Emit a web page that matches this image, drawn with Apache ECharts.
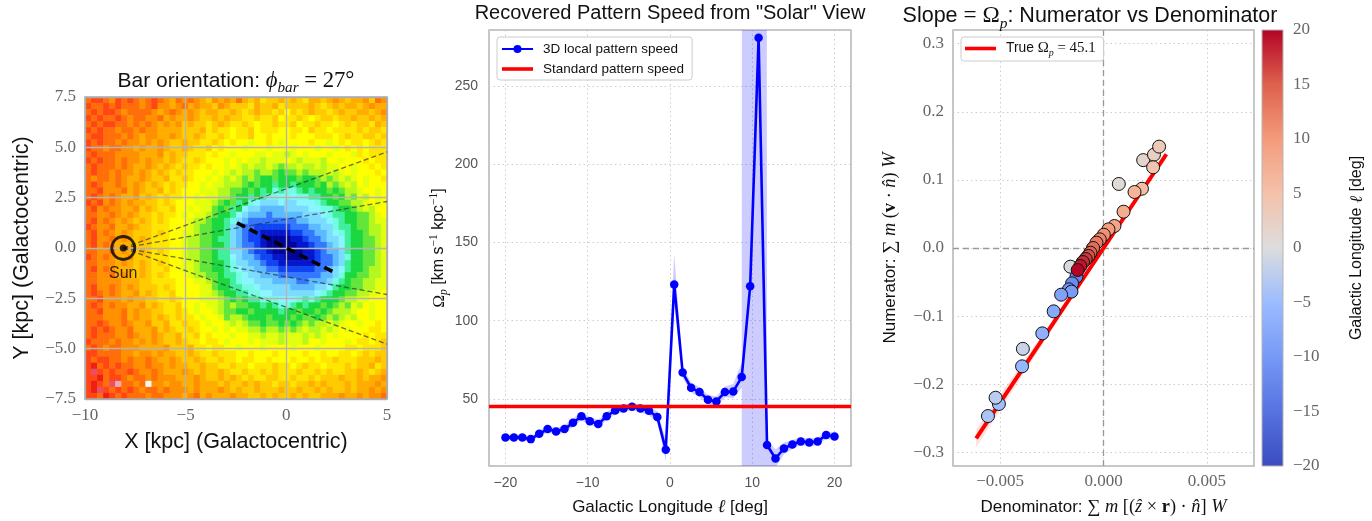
<!DOCTYPE html>
<html><head><meta charset="utf-8">
<script src="https://cdn.jsdelivr.net/npm/echarts@6/dist/echarts.min.js"></script>
<style>html,body{margin:0;padding:0;background:#fff}#c{width:1372px;height:521px}</style>
</head><body><div id="c"></div>
<script>
// ================= Panel 1: face-on density map (50 x 50 bins, level codes)
const mapXRange = [-10, 5];
const mapYRange = [-7.5, 7.5];
const mapBins = 50;
const mapLevels = "wpq0123456789abcdefghijk";
const mapColors = ['#fafafa','#eea8b4','#e8506a','#f01e14','#ff4614','#ff6e08','#ff9000','#ffae00','#ffca00','#ffe600','#ffff00','#e2ff10','#b4f820','#62e63c','#1cd840','#40ee9c','#74fce2','#8af6ff','#7cdcff','#5cbaff','#3478ff','#1044f2','#0616cc','#00049a'];
const mapRows = [
"21123121 23212 342323 45343424 5465545456445 43454435 23",
"1221212 22321 33432 4344534 5556455465555456545 445434 4",
"212112 32222 34323 434544 554565455 65756 545565455 44543",
"121221 2322 33243 44345 545455 66566576656765 5655455 454",
"21211 2232 32343 4354 556545 6656766566576656676 56556 45",
"1212 2322 32334 4445 55465 66766576667766756676666 56556",
"2112 2232 3433 4434 5545 66567665 77677767776 6676566 5565",
"121 2232 3343 4345 5455 665676 77877678777767787 676676 56",
"12 2322 3343 4434 5545 66576 77787778777877787787 676766 6",
"21 2223 3334 443 5455 66676 7787778 87889878 77787778 67666",
"1 2122 3233 4344 545 66567 778787 8898887898889 778777 6766",
"21222 323 4434 545 6566 767787 898 9989a99899 8988 77877 676",
"2122 3233 434 545 65667 7787 898 99a99 abaa 9a999 898 78777 67",
"2322 323 4434 554 6656 7787 898 9a9 abbabbbabba 9a9 898 7877 6",
"212 3323 434 545 6566 7787 889 99 abab bcbbcbb bab 9a9 89 78777",
"221 3332 434 554 656 7778 889 9a aba bcb dcdd cbcb bab a9 98 7787",
"212 323 443 545 6566 7787 88 99 ab bcb cdd ede ddc cb bab 9a 89 787",
"121 323 434 455 656 7778 88 9a ba cb d e fffeff eee d cb ba a9 98 787",
"21 3233 443 545 665 7787 88 a ba cb e ff gggg ffff ee dd c bb a9 89 77",
"22 3323 434 55 6566 787 88 9a bb c e f ggg h ggggg fff e d cc bb aa 9 87",
"21 323 434 545 656 777 8 9 9 a b b c d f g hhhhhhhh gg fff e d c bb a a 9 8 8",
"12 332 443 455 666 77 7 8 9 a a b b c f g hh iiiiii hhh gg ff d cc b aa 99 8",
"21 323 434 555 656 77 889aabbcfgh ii jjjjj ii hh gg f e d c bb a 99 8",
"21 332 434 545 666 77 899aabcc fghii j kkkk jj i hh g ff e c bb aa 9 8",
"21 323 444 555 666 77 899aabbc fghhij kkkkk jj i hh g f e c bb aa 9 8",
"22 332 434 545 656 77 899aabcc ffghii j kkkkk jj i h gg f c bb aa 9 8",
"12 323 443 555 666 77 899aabcc efgghii jj kkk jj i hh g f d bb aa 9 8",
"22 333 434 545 656 77 889aabbc dffggh ii jjjjjj i hh g f c bb aa 9 8",
"21 323 444 545 665 77 889aabbc deffgg hh iiiiii hh g f e c bb a 99 8",
"22 332 434 545 656 777 899aabcc deff ggg hhhhhhh gg f d bb aa 99 8",
"22 3333 444 55 6666 777 88 9a bb c dee fff gggg hh ggg f d c b aa 99 88",
"21 3323 434 555 656 7777 88 a bb cc dd e fffff gggg ff e c bb aa 99 88",
"212 323 443 545 665 7777 88 9a bb cc d d ee fffffff e d c bb aa 99 88 7",
"221 333 434 455 6656 7778 88 9a ba bcc ddd eee dcd cb bba 99 88 777",
"212 3233 443 545 665 7787 889 a9 aab bcb cddc bcbb aba 9a 89 7877",
"221 3332 434 455 6656 7877 89a ab babb bbcbbab bab a99 98 77877",
"2223 332 4344 545 6566 7877 8a9 9ab bbabbbabaab a9a 989 7787 7",
"2212 3323 443 554 66566 7877 898 9aaba abab a9a99 898 77877 67",
"21212 332 4443 545 6656 778787 889 9a99a9a989 9898 78777 667",
"2 1222 3323 4434 554 66576 777877 8898898889898 787777 6766",
"12 2232 3343 434 5545 66766 7877787 88898889 77877787 66765",
"21 2322 3334 4443 5554 66766 77877787777877787777 667666 5",
"112 2223 3433 4344 5545 665666 77677767777677677 667656 55",
"1211 2232 3323 4434 5545 66566766 77677767767 6656665 5545",
"1021 2122 33233 4344 55455 66566766656676566766656 55465",
"1q121 2212 33234 4434 545545 6656656566656656566 55456 54",
"110211 2322 32333 44434 554545 65665566566565 5545545 443",
"1012qp 2232w 33433 443444 545545455 65565 545455545 44434",
"10q1212 12322 32333 4344434 5455455545545545455 454434 3",
"11201212 22322 333432 43444344 5545455454554 44344343 32"
];
const sunPos = [-8.1, 0];
const sightlineEnds = [[5, 4.77], [5, 2.31], [5, -2.31], [5, -4.77]];
const barEnds = [[-2.45, 1.25], [2.45, -1.25]];

// ================= Panel 2: recovered pattern speed vs longitude
const longitudes = [-20,-18.974,-17.949,-16.923,-15.897,-14.872,-13.846,-12.821,-11.795,-10.769,-9.744,-8.718,-7.692,-6.667,-5.641,-4.615,-3.590,-2.564,-1.538,-0.513,0.513,1.538,2.564,3.590,4.615,5.641,6.667,7.692,8.718,9.744,10.769,11.795,12.821,13.846,14.872,15.897,16.923,17.949,18.974,20];
const patternSpeed = [25.3,25.3,25.3,24.2,27.6,30.6,29.1,30.6,34.6,38.9,35.7,33.8,38.9,42.5,43.8,44.9,43.8,42.3,38.3,17.4,123.1,66.8,57.0,54.3,49.4,48.3,54.3,54.7,63.9,122.1,281.1,20.4,11.8,18.2,20.8,22.7,22.1,22.7,26.8,25.9];
const speedLow = [23.5,23.5,23.6,22.4,25.7,28.5,27.0,28.3,32.0,36.2,33.2,31.3,36.4,40.0,41.5,42.6,41.3,39.5,35.0,10.5,110.0,63.5,54.0,51.2,46.5,45.3,51.0,50.5,57.0,-10000,-10000,-10000,6.0,14.5,18.0,20.2,19.7,20.3,24.3,23.5];
const speedHigh = [27.0,27.0,27.1,26.0,29.5,32.8,31.3,33.0,37.3,41.7,38.3,36.4,41.5,45.1,46.2,47.3,46.4,45.2,41.8,24.0,143.0,70.3,60.2,57.5,52.4,51.4,57.8,59.5,73.0,10000,10000,24.0,17.5,22.0,23.6,25.2,24.6,25.1,29.3,28.3];
const standardSpeed = 45.1;
const speedXRange = [-22, 22];
const speedYRange = [7, 286];

// ================= Panel 3: numerator vs denominator (one point per longitude bin)
const denominators = [-0.00125,-0.00112,-0.00099,-0.00086,-0.00073,-0.00063,-0.00050,-0.00131,-0.00152,-0.00167,-0.00155,-0.00205,-0.00241,-0.00296,-0.00394,-0.00506,-0.00559,-0.00522,-0.00390,-0.00160,0.00074,0.00192,0.00244,0.00269,0.00240,0.00186,0.00150,0.00097,0.00053,0.00024,0.000015,-0.00018,-0.00034,-0.00050,-0.00063,-0.00073,-0.00086,-0.00099,-0.00112,-0.00125];
const numerators = [-0.0323,-0.0264,-0.0206,-0.0162,-0.0117,-0.0069,0.0000,-0.0420,-0.0519,-0.0607,-0.0640,-0.0685,-0.0930,-0.1253,-0.1737,-0.2290,-0.2467,-0.2198,-0.1480,-0.0274,0.0940,0.1290,0.1370,0.1488,0.1185,0.0870,0.0822,0.0533,0.0323,0.0274,0.0195,0.0127,0.0078,0.0000,-0.0069,-0.0117,-0.0162,-0.0206,-0.0264,-0.0323];
const fitLineX = [-0.00616, 0.00304];
const fitLineY = [-0.2794, 0.1376];
const fitBandX = [-0.00616, 0.0, 0.00304];
const fitBandLow = [-0.293, -0.002, 0.131];
const fitBandHigh = [-0.266, 0.001, 0.144];
const slopeXRange = [-0.00728, 0.00728];
const slopeYRange = [-0.32, 0.32];
const colorbarRange = [-20, 20];
const coolwarm = ['#3b4cc0','#5673e0','#7699f6','#9bbcff','#dcdddd','#f4c2aa','#f49b7c','#de614d','#b40426'];

// ================= build
const SANS = "'Liberation Sans', Arial, sans-serif";
const SERIF = "'Liberation Serif', 'DejaVu Serif', serif";
function rich(sz) {
  const lh = Math.round(sz * 1.4);
  return {
    s: {fontFamily: SANS, fontSize: sz, color: '#111', lineHeight: lh, fontWeight: 'normal'},
    m: {fontFamily: SERIF, fontSize: sz * 1.08, color: '#111', lineHeight: lh, fontWeight: 'normal'},
    mi: {fontFamily: SERIF, fontStyle: 'italic', fontSize: sz * 1.08, color: '#111', lineHeight: lh, fontWeight: 'normal'},
    mb: {fontFamily: SERIF, fontWeight: 'bold', fontSize: sz * 1.08, color: '#111', lineHeight: lh},
    sub: {fontFamily: SERIF, fontStyle: 'italic', fontSize: sz * 0.72, color: '#111', lineHeight: Math.round(sz * 0.8), verticalAlign: 'bottom', fontWeight: 'normal'},
    sup: {fontFamily: SERIF, fontSize: sz * 0.72, color: '#111', lineHeight: Math.round(sz * 0.8), verticalAlign: 'top', fontWeight: 'normal'}
  };
}
const fmt = d => v => (v < -1e-12 ? '\u2212' : '') + Math.abs(v).toFixed(d);
const lineIcon = 'path://M0,0 L31,0 L31,3.6 L0,3.6 Z';

const binW = (mapXRange[1] - mapXRange[0]) / mapBins;
const binH = (mapYRange[1] - mapYRange[0]) / mapBins;
const mapCells = [];
mapRows.forEach((row, r) => {
  const s = row.replace(/ /g, '');
  if (s.length !== mapBins) console.error('row', r, 'length', s.length);
  for (let c = 0; c < s.length; c++) {
    mapCells.push([mapXRange[0] + (c + 0.5) * binW, mapYRange[1] - (r + 0.5) * binH, mapLevels.indexOf(s[c])]);
  }
});

const speedData = longitudes.map((l, i) => [l, patternSpeed[i]]);
const scatterData = denominators.map((d, i) => [d, numerators[i], longitudes[i]]);

const noAxisLine = {show: false};
const dotted = {show: true, lineStyle: {color: '#cdcdcd', type: [1.5, 3], width: 1}};

const series = [];
// panel 1
series.push({
  type: 'custom', xAxisIndex: 0, yAxisIndex: 0, z: 1, clip: true, progressive: 0, silent: true,
  data: mapCells,
  renderItem: (p, api) => {
    const x = api.value(0), y = api.value(1), lv = api.value(2);
    const a = api.coord([x - binW / 2, y + binH / 2]);
    const b = api.coord([x + binW / 2, y - binH / 2]);
    return {type: 'rect', shape: {x: a[0], y: a[1], width: b[0] - a[0] + 0.6, height: b[1] - a[1] + 0.6}, style: {fill: mapColors[lv]}};
  }
});
sightlineEnds.forEach(e => series.push({
  type: 'line', xAxisIndex: 0, yAxisIndex: 0, z: 6, symbol: 'none', silent: true,
  data: [sunPos, e], lineStyle: {color: '#333', opacity: 0.7, width: 1.3, type: [5, 3]}
}));
series.push({
  type: 'line', xAxisIndex: 0, yAxisIndex: 0, z: 7, symbol: 'none', silent: true,
  data: barEnds, lineStyle: {color: '#000', width: 3.6, type: [9, 5]}
});
series.push({
  type: 'scatter', xAxisIndex: 0, yAxisIndex: 0, z: 8, silent: true,
  data: [sunPos], symbol: 'circle', symbolSize: 23,
  itemStyle: {color: 'rgba(0,0,0,0)', borderColor: '#000', borderWidth: 2.8},
  label: {show: true, position: 'bottom', distance: 5, formatter: 'Sun', fontFamily: SANS, fontSize: 16, color: '#000'}
});
series.push({
  type: 'scatter', xAxisIndex: 0, yAxisIndex: 0, z: 9, silent: true,
  data: [sunPos], symbol: 'circle', symbolSize: 7, itemStyle: {color: '#000'}
});
// panel 2
series.push({
  type: 'custom', xAxisIndex: 1, yAxisIndex: 1, z: 1, clip: true, silent: true,
  data: [[0, 0]],
  renderItem: (p, api) => {
    const pts = [];
    for (let i = 0; i < longitudes.length; i++) pts.push(api.coord([longitudes[i], speedHigh[i]]));
    for (let i = longitudes.length - 1; i >= 0; i--) pts.push(api.coord([longitudes[i], speedLow[i]]));
    return {type: 'polygon', shape: {points: pts}, style: {fill: 'rgba(0,0,255,0.2)'}};
  }
});
series.push({
  name: '3D local pattern speed', type: 'line', xAxisIndex: 1, yAxisIndex: 1, z: 3,
  data: speedData, symbol: 'circle', symbolSize: 8.5, showAllSymbol: true,
  lineStyle: {color: '#0000ff', width: 2.6}, itemStyle: {color: '#0000ff'}
});
series.push({
  name: 'Standard pattern speed', type: 'line', xAxisIndex: 1, yAxisIndex: 1, z: 4,
  data: [[speedXRange[0], standardSpeed], [speedXRange[1], standardSpeed]], symbol: 'none',
  lineStyle: {color: '#ff0000', width: 3.6}, itemStyle: {color: '#ff0000'}
});
// panel 3
series.push({
  type: 'custom', xAxisIndex: 2, yAxisIndex: 2, z: 1, clip: true, silent: true,
  data: [[0, 0]],
  renderItem: (p, api) => {
    const pts = [];
    for (let i = 0; i < fitBandX.length; i++) pts.push(api.coord([fitBandX[i], fitBandHigh[i]]));
    for (let i = fitBandX.length - 1; i >= 0; i--) pts.push(api.coord([fitBandX[i], fitBandLow[i]]));
    return {type: 'polygon', shape: {points: pts}, style: {fill: 'rgba(255,60,60,0.16)'}};
  }
});
series.push({
  name: 'True Omega', type: 'line', xAxisIndex: 2, yAxisIndex: 2, z: 3, symbol: 'none',
  data: fitLineX.map((x, i) => [x, fitLineY[i]]),
  lineStyle: {color: '#ff0000', width: 4}, itemStyle: {color: '#ff0000'},
  markLine: {silent: true, symbol: 'none', label: {show: false}, z: 2,
    lineStyle: {color: '#999', type: [6, 4], width: 1.3},
    data: [{xAxis: 0}, {yAxis: 0}]}
});
series.push({
  type: 'scatter', xAxisIndex: 2, yAxisIndex: 2, z: 5,
  data: scatterData, symbolSize: 13,
  itemStyle: {borderColor: '#111', borderWidth: 1, opacity: 1}
});
// colorbar
series.push({
  type: 'custom', xAxisIndex: 3, yAxisIndex: 3, z: 1, silent: true,
  data: [[0, 0]],
  renderItem: (p, api) => {
    const a = api.coord([0, colorbarRange[1]]);
    const b = api.coord([1, colorbarRange[0]]);
    return {type: 'rect', shape: {x: a[0], y: a[1], width: b[0] - a[0], height: b[1] - a[1]},
      style: {fill: {type: 'linear', x: 0, y: 1, x2: 0, y2: 0,
        colorStops: coolwarm.map((c, i) => ({offset: i / (coolwarm.length - 1), color: c}))}}};
  }
});
const scatterIndex = series.length - 2;

const option = {
  animation: false,
  backgroundColor: '#fff',
  title: [
    {text: '{s|Bar orientation: }{mi|\u03d5}{sub|bar}{m| = 27\u00b0}', left: 236, top: 67, textAlign: 'center', padding: 0,
      textStyle: {fontWeight: 'normal', rich: rich(21)}},
    {text: 'Recovered Pattern Speed from "Solar" View', left: 670, top: 3, textAlign: 'center', padding: 0,
      textStyle: {fontFamily: SANS, fontSize: 20, fontWeight: 'normal', color: '#111'}},
    {text: '{s|Slope }{m|= \u03a9}{sub|p}{s|: Numerator vs Denominator}', left: 1090, top: 1, textAlign: 'center', padding: 0,
      textStyle: {fontWeight: 'normal', rich: rich(21.5)}}
  ],
  legend: [
    {data: [{name: '3D local pattern speed'}, {name: 'Standard pattern speed', icon: lineIcon}], left: 497, top: 37, orient: 'vertical',
      itemWidth: 31, itemHeight: 10, itemGap: 6, padding: [5, 8, 4, 4], selectedMode: false,
      backgroundColor: '#fff', borderColor: '#cccccc', borderWidth: 1, borderRadius: 3,
      textStyle: {fontFamily: SANS, fontSize: 13.5, color: '#111', padding: [0, 0, 0, 5]}},
    {data: [{name: 'True Omega', icon: lineIcon}], left: 961, top: 37, orient: 'vertical', itemWidth: 31, itemHeight: 10,
      padding: [4, 8, 3, 4], selectedMode: false,
      backgroundColor: '#fff', borderColor: '#cccccc', borderWidth: 1, borderRadius: 3,
      formatter: () => '{s|True }{m|\u03a9}{sub|p}{m| = 45.1}',
      textStyle: {padding: [0, 0, 0, 5], rich: rich(13.8)}}
  ],
  visualMap: [{type: 'continuous', show: false, seriesIndex: scatterIndex, dimension: 2,
    min: colorbarRange[0], max: colorbarRange[1], inRange: {color: coolwarm}}],
  grid: [
    {left: 85, top: 97, width: 302, height: 302, show: true, borderColor: '#aaaaaa', borderWidth: 1.5, backgroundColor: 'transparent', z: 5},
    {left: 489, top: 30, width: 362, height: 436, show: true, borderColor: '#b4b4b4', borderWidth: 1.5, backgroundColor: 'transparent'},
    {left: 953, top: 30, width: 301, height: 436, show: true, borderColor: '#b4b4b4', borderWidth: 1.5, backgroundColor: 'transparent'},
    {left: 1262, top: 30, width: 21, height: 436, show: true, borderColor: '#b4b4b4', borderWidth: 1, backgroundColor: 'transparent', z: 5}
  ],
  xAxis: [
    {gridIndex: 0, type: 'value', min: mapXRange[0], max: mapXRange[1], interval: 5, z: 4,
      axisLine: noAxisLine, axisTick: {show: false},
      splitLine: {show: true, lineStyle: {color: '#b4b4b4', width: 1.3}},
      axisLabel: {fontFamily: SERIF, fontSize: 17, color: '#666', margin: 8, formatter: fmt(0)},
      name: 'X [kpc] (Galactocentric)', nameLocation: 'middle', nameGap: 29,
      nameTextStyle: {fontFamily: SANS, fontSize: 21.5, color: '#111', lineHeight: 26}},
    {gridIndex: 1, type: 'value', min: speedXRange[0], max: speedXRange[1], splitNumber: 4,
      axisLine: noAxisLine, axisTick: {show: false}, splitLine: dotted,
      axisLabel: {fontFamily: SANS, fontSize: 14, color: '#555', margin: 10, showMinLabel: false, showMaxLabel: false, formatter: fmt(0)},
      name: '{s|Galactic Longitude }{mi|\u2113}{s| [deg]}', nameLocation: 'middle', nameGap: 29,
      nameTextStyle: {rich: rich(17)}},
    {gridIndex: 2, type: 'value', min: slopeXRange[0], max: slopeXRange[1], splitNumber: 3,
      axisLine: noAxisLine, axisTick: {show: false}, splitLine: dotted,
      axisLabel: {fontFamily: SERIF, fontSize: 17, color: '#666', margin: 7, showMinLabel: false, showMaxLabel: false, formatter: fmt(3)},
      name: '{s|Denominator: }{m|\u2211 }{mi|m }{m|[(}{mi|\u1e91}{m| \u00d7 }{mb|r}{m|) \u00b7 }{mi|n\u0302}{m|] }{mi|W}',
      nameLocation: 'middle', nameGap: 29, nameTextStyle: {rich: rich(17)}},
    {gridIndex: 3, type: 'value', min: 0, max: 1, show: false}
  ],
  yAxis: [
    {gridIndex: 0, type: 'value', min: mapYRange[0], max: mapYRange[1], interval: 2.5, z: 4,
      axisLine: noAxisLine, axisTick: {show: false},
      splitLine: {show: true, lineStyle: {color: '#b4b4b4', width: 1.3}},
      axisLabel: {fontFamily: SERIF, fontSize: 17, color: '#666', margin: 9, formatter: fmt(1)},
      name: 'Y [kpc] (Galactocentric)', nameLocation: 'middle', nameGap: 50, nameRotate: 90,
      nameTextStyle: {fontFamily: SANS, fontSize: 21.5, color: '#111', lineHeight: 26}},
    {gridIndex: 1, type: 'value', min: speedYRange[0], max: speedYRange[1], splitNumber: 5,
      axisLine: noAxisLine, axisTick: {show: false}, splitLine: dotted,
      axisLabel: {fontFamily: SANS, fontSize: 14, color: '#555', margin: 11, showMinLabel: false, showMaxLabel: false, formatter: fmt(0)},
      name: '{m|\u03a9}{sub|p}{s| [km s}{sup|\u22121}{s| kpc}{sup|\u22121}{s|]}', nameLocation: 'middle', nameGap: 39, nameRotate: 90,
      nameTextStyle: {rich: rich(16)}},
    {gridIndex: 2, type: 'value', min: slopeYRange[0], max: slopeYRange[1], splitNumber: 6,
      axisLine: noAxisLine, axisTick: {show: false}, splitLine: dotted,
      axisLabel: {fontFamily: SERIF, fontSize: 17, color: '#666', margin: 9, showMinLabel: false, showMaxLabel: false, formatter: fmt(1)},
      name: '{s|Numerator: }{m|\u2211 }{mi|m }{m|(}{mb|v}{m| \u00b7 }{mi|n\u0302}{m|) }{mi|W}', nameLocation: 'middle', nameGap: 51, nameRotate: 90,
      nameTextStyle: {rich: rich(17)}},
    {gridIndex: 3, type: 'value', position: 'right', min: colorbarRange[0], max: colorbarRange[1], interval: 5,
      axisLine: noAxisLine, axisTick: {show: false}, splitLine: {show: false},
      axisLabel: {fontFamily: SERIF, fontSize: 17, color: '#666', margin: 10, formatter: fmt(0)},
      name: '{s|Galactic Longitude }{mi|\u2113}{s| [deg]}', nameLocation: 'middle', nameGap: 63, nameRotate: 90,
      nameTextStyle: {rich: rich(16)}}
  ],
  series: series
};
const chart = echarts.init(document.getElementById('c'), null, {renderer: 'canvas'});
chart.setOption(option);
</script>
</body></html>
